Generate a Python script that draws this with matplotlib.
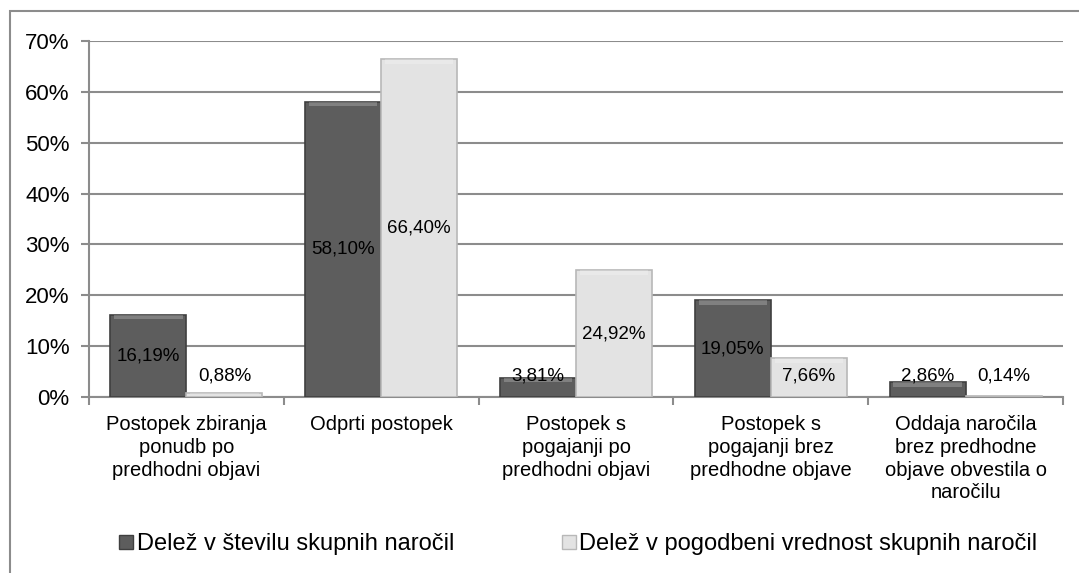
import matplotlib
matplotlib.use("Agg")
import matplotlib.pyplot as plt
import numpy as np
from matplotlib.patches import Rectangle
from matplotlib.lines import Line2D

plt.rcParams['font.family'] = ['Liberation Sans', 'DejaVu Sans']

categories = [
    "Postopek zbiranja\nponudb po\npredhodni objavi",
    "Odprti postopek",
    "Postopek s\npogajanji po\npredhodni objavi",
    "Postopek s\npogajanji brez\npredhodne objave",
    "Oddaja naročila\nbrez predhodne\nobjave obvestila o\nnaročilu",
]
series_names = ["Delež v številu skupnih naročil",
                "Delež v pogodbeni vrednost skupnih naročil"]
share_count = [16.19, 58.10, 3.81, 19.05, 2.86]
share_value = [0.88, 66.40, 24.92, 7.66, 0.14]
label_count = ["16,19%", "58,10%", "3,81%", "19,05%", "2,86%"]
label_value = ["0,88%", "66,40%", "24,92%", "7,66%", "0,14%"]
yticks = [0, 10, 20, 30, 40, 50, 60, 70]

W, H = 1079, 573
fig = plt.figure(figsize=(W / 100, H / 100), dpi=100)
ax = fig.add_axes([89 / W, 1 - 397 / H, (1063 - 89) / W, (397 - 41) / H])

grid_c = "#8c8c8c"
dark = "#5d5d5d"
dark_edge = "#3f3f3f"
light = "#e3e3e3"
light_edge = "#b8b8b8"

x = np.arange(len(categories))
bw = 0.39
series = [(share_count, label_count, dark, dark_edge, -bw / 2),
          (share_value, label_value, light, light_edge, bw / 2)]
for vals, labs, fc, ec, off in series:
    ax.bar(x + off, vals, width=bw, color=fc, edgecolor=ec, linewidth=1.2, zorder=3)
    # bevel highlight at top of each bar
    for xi, v in zip(x, vals):
        if v > 0.5:
            hl = min(0.9, v * 0.3)
            ax.bar(xi + off, hl, bottom=v - hl, width=bw * 0.9,
                   color="white", alpha=0.22, linewidth=0, zorder=4)
    for xi, v, t in zip(x, vals, labs):
        ax.text(xi + off, max(v / 2, 4.2), t, ha="center", va="center",
                fontsize=13.5, color="black", zorder=5)

ax.set_xlim(-0.5, len(categories) - 0.5)
ax.set_ylim(0, 70)
ax.set_yticks(yticks)
ax.set_yticklabels([f"{t}%" for t in yticks], fontsize=16)
ax.yaxis.grid(True, color=grid_c, linewidth=1.5, zorder=0)
ax.set_axisbelow(True)

ax.set_xticks(x)
ax.set_xticklabels(categories, fontsize=14.5, linespacing=1.25)
ax.tick_params(axis="x", length=0, pad=13)
ax.set_xticks(np.arange(len(categories) + 1) - 0.5, minor=True)
ax.tick_params(axis="x", which="minor", length=6, color=grid_c, width=1.5)
ax.tick_params(axis="y", length=6, color=grid_c, width=1.5, pad=8)

for s in ["top", "right"]:
    ax.spines[s].set_visible(False)
for s in ["left", "bottom"]:
    ax.spines[s].set_color(grid_c)
    ax.spines[s].set_linewidth(1.5)

# outer frame
fig.patches.append(Rectangle((10 / W, -0.1), 1.2, 1 - 11 / H + 0.1,
                             transform=fig.transFigure, fill=False,
                             edgecolor=grid_c, linewidth=1.5))

handles = [Line2D([], [], marker="s", linestyle="none", markersize=10,
                  markerfacecolor=dark, markeredgecolor=dark_edge),
           Line2D([], [], marker="s", linestyle="none", markersize=10,
                  markerfacecolor=light, markeredgecolor=light_edge)]
fig.legend(handles, series_names, loc="center", bbox_to_anchor=(0.535, 1 - 544 / H),
           ncol=2, frameon=False, fontsize=17, handletextpad=0.05,
           columnspacing=4.45, handlelength=0.8)

fig.savefig("out.png", dpi=100)
